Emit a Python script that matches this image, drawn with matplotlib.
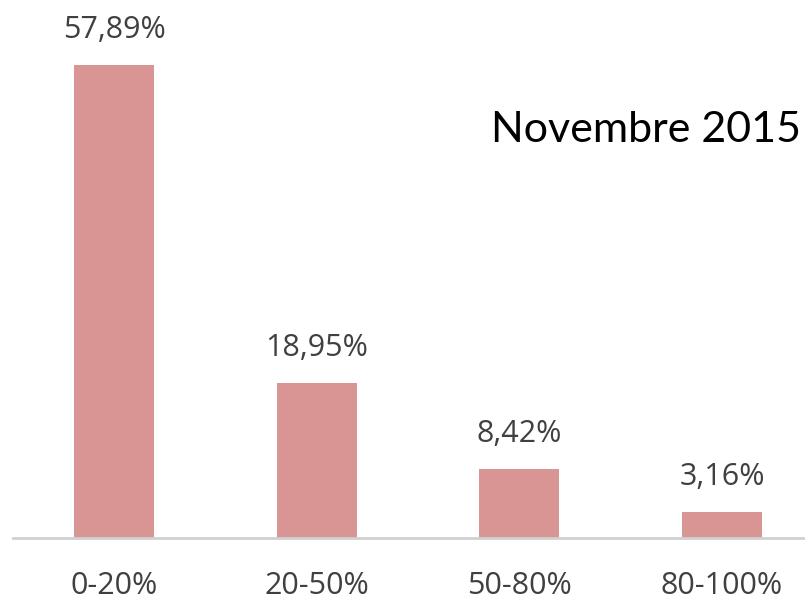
import matplotlib.pyplot as plt

# data
categories = ['0-20%', '20-50%', '50-80%', '80-100%']
values = [57.89, 18.95, 8.42, 3.16]
value_labels = ['57,89%', '18,95%', '8,42%', '3,16%']
note = 'Novembre 2015'

bar_color = '#D99594'
text_color = '#404040'

plt.rcParams['font.family'] = ['Open Sans', 'DejaVu Sans']

fig = plt.figure(figsize=(8.05, 6.03), dpi=100)
ax = fig.add_axes([13 / 805, 65 / 603, 792 / 805, 538 / 603])

x = list(range(len(categories)))
bars = ax.bar(x, values, width=0.395, color=bar_color, zorder=2)

for rect, lab in zip(bars, value_labels):
    ax.annotate(lab, (rect.get_x() + rect.get_width() / 2, rect.get_height()),
                xytext=(0, 19.5), textcoords='offset points',
                ha='center', va='baseline', fontsize=22, color=text_color)

ax.set_xlim(-0.5, 3.41)
ax.set_ylim(0, 65.85)
ax.set_xticks(x)
ax.set_xticklabels(categories, fontsize=22, color=text_color)
ax.tick_params(axis='x', length=0, pad=24)
ax.set_yticks([])

for side in ['top', 'right', 'left']:
    ax.spines[side].set_visible(False)
ax.spines['bottom'].set_color('#d0d0d0')
ax.spines['bottom'].set_linewidth(2)

fig.text(491 / 805, (603 - 142) / 603, note, fontsize=31, color='black',
         ha='left', va='baseline', family=['Lato', 'DejaVu Sans'])

fig.savefig('out.png', dpi=100)
